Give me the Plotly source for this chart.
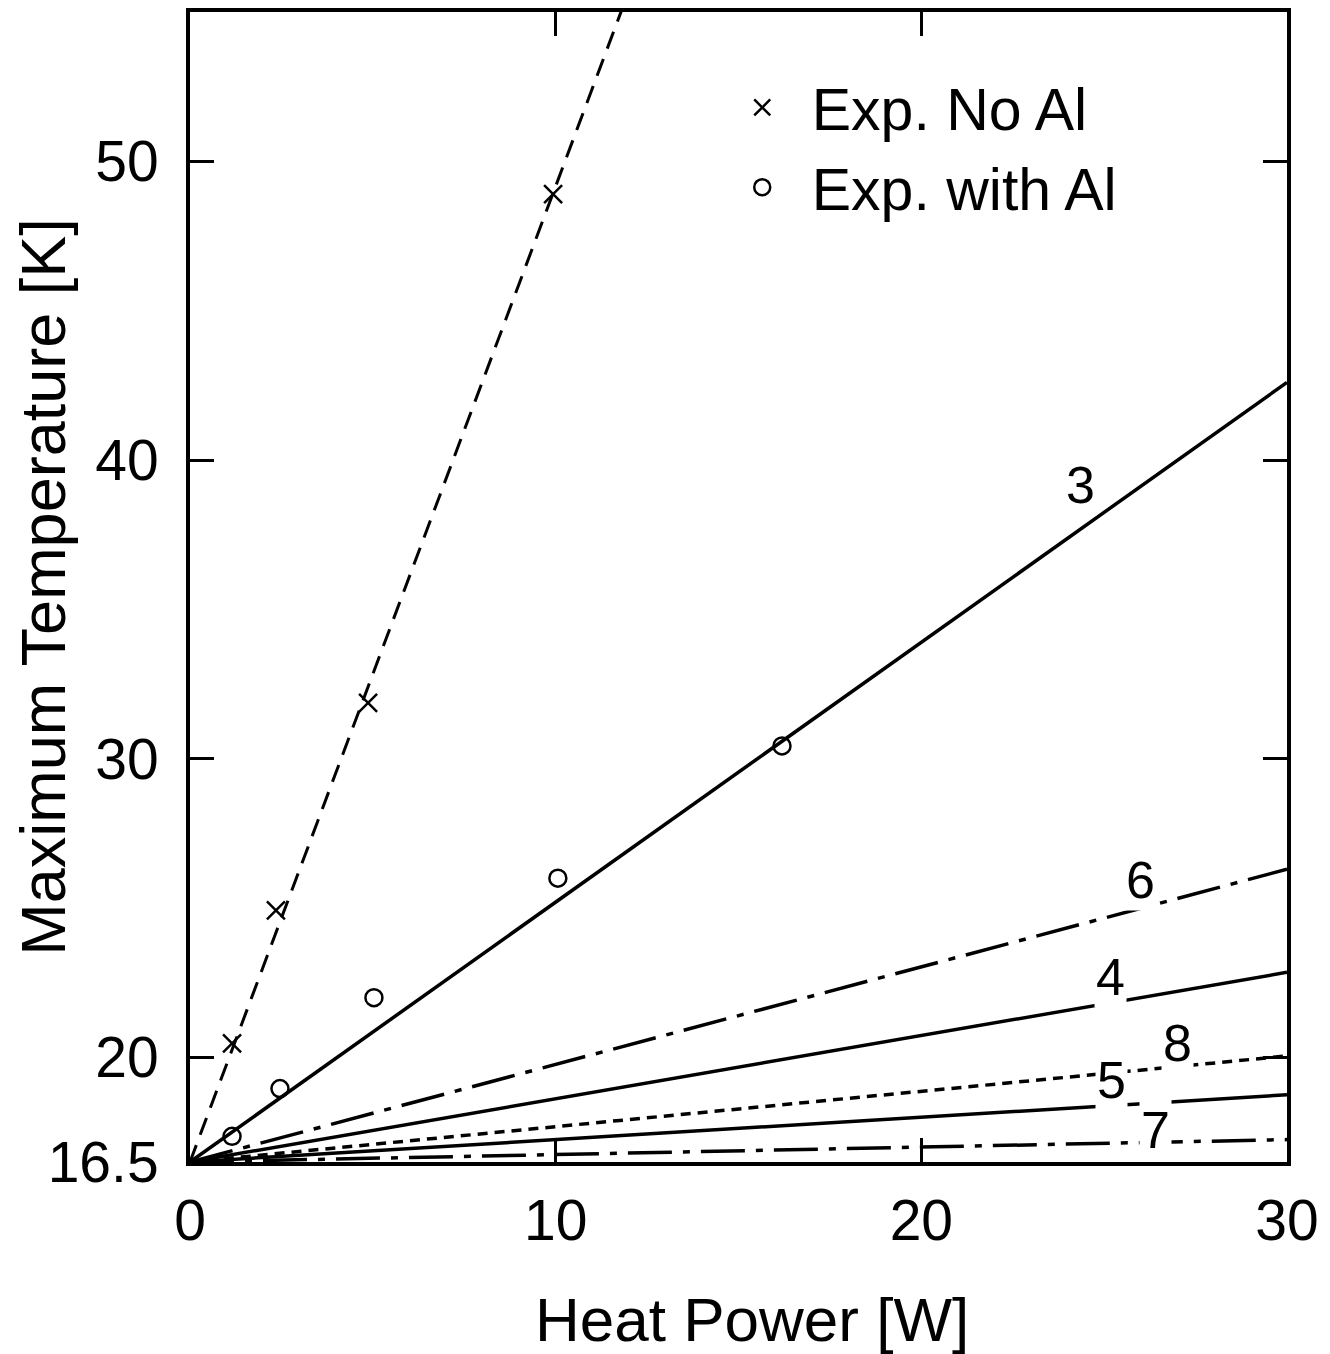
import plotly.graph_objects as go

# Experimental data
power_noal = [1.15, 2.35, 4.87, 9.93]
temp_noal = [20.47, 24.92, 31.87, 48.9]
power_al = [1.15, 2.46, 5.03, 10.06, 16.19]
temp_al = [17.36, 18.96, 22.0, 26.0, 30.43]

# Fit line through no-Al data
power_noal_fit = [0, 12]
temp_noal_fit = [16.5, 55.7]

# Calculated curves (labelled 3..8)
power_calc = [0, 30]
temp_c3 = [16.5, 42.6]
temp_c6 = [16.5, 26.3]
temp_c4 = [16.5, 22.85]
temp_c8 = [16.5, 20.05]
temp_c5 = [16.5, 18.75]
temp_c7 = [16.5, 17.25]

curve_labels = ["3", "6", "4", "8", "5", "7"]
label_x = [24.34, 25.98, 25.16, 27.0, 25.2, 26.4]
label_y = [39.15, 25.93, 22.7, 20.5, 19.23, 17.56]

x_ticks = [0, 10, 20, 30]
y_ticks = [16.5, 20, 30, 40, 50]

FONT = "Liberation Sans"
fig = go.Figure()

def line(x, y, dash, width=3.5):
    fig.add_trace(go.Scatter(x=x, y=y, mode="lines", showlegend=False,
                             line=dict(color="black", width=width, dash=dash),
                             hoverinfo="skip"))

line(power_noal_fit, temp_noal_fit, "18px,11px", 3)
line(power_calc, temp_c3, "solid")
line(power_calc, temp_c6, "44px,11px,7px,11px")
line(power_calc, temp_c4, "solid")
line(power_calc, temp_c8, "10px,7px")
line(power_calc, temp_c5, "solid")
line(power_calc, temp_c7, "44px,11px,7px,11px")

fig.add_trace(go.Scatter(x=power_noal, y=temp_noal, mode="markers", name="\u2002Exp. No Al",
                         marker=dict(symbol="x-thin-open", size=18, color="black",
                                     line=dict(color="black", width=2.5))))
fig.add_trace(go.Scatter(x=power_al, y=temp_al, mode="markers", name="\u2002Exp. with Al",
                         marker=dict(symbol="circle-open", size=17, color="black",
                                     line=dict(color="black", width=2.5))))

for t, lx, ly in zip(curve_labels, label_x, label_y):
    fig.add_annotation(x=lx, y=ly, text=t, showarrow=False,
                       font=dict(family=FONT, size=52, color="black"),
                       bgcolor="white")

# x-axis title placed as an annotation for precise positioning
fig.add_annotation(x=0.512, y=-0.137, xref="paper", yref="paper",
                   xanchor="center", yanchor="middle", showarrow=False,
                   text="Heat Power [W]", font=dict(family=FONT, size=62, color="black"))

axis_common = dict(showline=True, linecolor="black", linewidth=4, mirror="ticks",
                   ticks="inside", ticklen=24, tickwidth=2.5, tickcolor="black",
                   showgrid=False, zeroline=False, automargin=False,
                   tickfont=dict(family=FONT, size=57, color="black"))

fig.update_xaxes(range=[0, 30], tickvals=x_ticks, ticktext=[str(v) for v in x_ticks],
                 ticklabelstandoff=6, **axis_common)
fig.update_yaxes(range=[16.5, 55], tickvals=y_ticks, ticktext=["16.5", "20", "30", "40", "50"],
                 title=dict(text="Maximum Temperature [K]", font=dict(family=FONT, size=63, color="black"),
                            standoff=18),
                 ticklabelstandoff=16, **axis_common)

fig.update_layout(
    width=1314, height=1346,
    margin=dict(l=182, r=35, t=4, b=192),
    paper_bgcolor="white", plot_bgcolor="white",
    font=dict(family=FONT, color="black"),
    legend=dict(x=0.5034, y=0.956, xanchor="left", yanchor="top",
                font=dict(family=FONT, size=59, color="black"),
                bgcolor="rgba(0,0,0,0)", borderwidth=0),
)

fig.write_html("out.html")
